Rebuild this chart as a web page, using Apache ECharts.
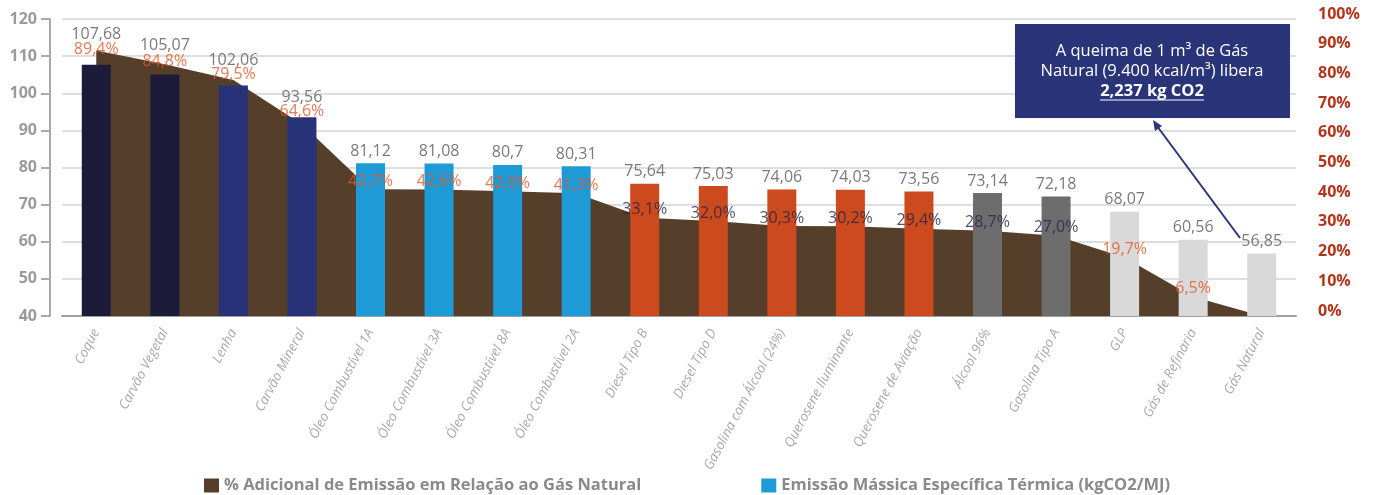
<!DOCTYPE html>
<html>
<head>
<meta charset="utf-8">
<script src="https://cdn.jsdelivr.net/npm/echarts@6/dist/echarts.min.js"></script>
<style>
  html, body { margin: 0; padding: 0; background: #fff; }
  #chart { width: 1374px; height: 495px; }
</style>
</head>
<body>
<div id="chart"></div>
<script>
// dados
const categories = ['Coque', 'Carvão Vegetal', 'Lenha', 'Carvão Mineral', 'Óleo Combustível 1A', 'Óleo Combustível 3A',
  'Óleo Combustível 8A', 'Óleo Combustível 2A', 'Diesel Tipo B', 'Diesel Tipo D', 'Gasolina com Álcool (24%)',
  'Querosene Iluminante', 'Querosene de Aviação', 'Álcool 96%', 'Gasolina Tipo A', 'GLP', 'Gás de Refinaria', 'Gás Natural']
const emission = [107.68, 105.07, 102.06, 93.56, 81.12, 81.08, 80.7, 80.31, 75.64, 75.03, 74.06, 74.03, 73.56, 73.14, 72.18, 68.07, 60.56, 56.85]
const additional = [89.4, 84.8, 79.5, 64.6, 42.7, 42.6, 42.0, 41.3, 33.1, 32.0, 30.3, 30.2, 29.4, 28.7, 27.0, 19.7, 6.5, 0]
const fuelGroup = [0, 0, 1, 1, 2, 2, 2, 2, 3, 3, 3, 3, 3, 4, 4, 5, 5, 5]
const legendNames = ['% Adicional de Emissão em Relação ao Gás Natural', 'Emissão Mássica Específica Térmica (kgCO2/MJ)']

const groupColors = ['#1c1c3a', '#283278', '#1e9ad6', '#cc4a1e', '#6d6d6d', '#d9d9d9']
const font = '"Open Sans", sans-serif'
const comma = v => String(v).replace('.', ',')

// ajustes manuais dos rótulos que se sobrepõem no topo
const valueLift = {0: -18, 1: -17, 2: -13, 3: -8}
const pctShift = {0: 7, 1: 5, 2: 3, 3: -5}

const myChart = echarts.init(document.getElementById('chart'))

const option = {
  animation: false,
  legend: {
    data: legendNames,
    left: 199,
    top: 472,
    icon: 'rect',
    itemWidth: 15,
    itemHeight: 14,
    itemGap: 120,
    textStyle: { fontFamily: font, fontWeight: 'bold', fontSize: 16.5, color: '#8a8a8a' }
  },
  grid: { left: 62, right: 78, top: 19, bottom: 179 },
  xAxis: {
    type: 'category',
    data: categories,
    axisLine: { lineStyle: { color: '#a0a0a0', width: 2 } },
    axisTick: { show: false },
    axisLabel: {
      interval: 0,
      rotate: 62,
      margin: 14,
      fontFamily: font,
      fontStyle: 'italic',
      fontSize: 13.5,
      color: '#aaaaaa'
    }
  },
  yAxis: [
    {
      type: 'value',
      min: 40,
      max: 120,
      interval: 10,
      offset: 12,
      axisLine: { show: true, lineStyle: { color: '#aaaaaa', width: 2 } },
      axisTick: { show: true, length: 9, lineStyle: { color: '#aaaaaa', width: 2 } },
      axisLabel: { margin: 13, fontFamily: font, fontWeight: 'bold', fontSize: 16, color: '#9a9a9a' },
      splitLine: { lineStyle: { color: '#dedede', width: 2 } }
    },
    {
      type: 'value',
      min: 0,
      max: 100,
      interval: 10,
      position: 'right',
      axisLine: { show: false },
      axisTick: { show: false },
      splitLine: { show: false },
      axisLabel: {
        margin: 22,
        fontFamily: font,
        fontWeight: 'bold',
        fontSize: 16,
        color: '#b5351c',
        verticalAlign: 'bottom',
        lineHeight: 10,
        formatter: '{value}%'
      }
    }
  ],
  series: [
    {
      name: legendNames[0],
      type: 'line',
      yAxisIndex: 1,
      data: additional,
      symbol: 'none',
      lineStyle: { width: 0 },
      itemStyle: { color: '#563f2a' },
      areaStyle: { color: '#563f2a', opacity: 1 },
      z: 1
    },
    {
      name: legendNames[1],
      type: 'bar',
      data: emission.map((v, i) => ({
        value: v,
        itemStyle: { color: groupColors[fuelGroup[i]] },
        label: { offset: [0, valueLift[i] || 0] }
      })),
      barWidth: 29,
      itemStyle: { color: '#1e9ad6' },
      label: {
        show: true,
        position: 'top',
        distance: 4,
        fontFamily: font,
        fontSize: 16,
        color: '#7a7a7a',
        formatter: p => comma(p.value)
      },
      z: 2
    },
    {
      // rótulos de percentual sobre a área
      type: 'scatter',
      yAxisIndex: 1,
      symbolSize: 0,
      silent: true,
      data: additional.map((v, i) => ({
        value: v,
        label: {
          show: v > 0,
          offset: [0, pctShift[i] || 0],
          color: (fuelGroup[i] === 3 || fuelGroup[i] === 4) ? '#26264a' : '#e4562a'
        }
      })),
      label: {
        position: 'top',
        distance: 0,
        fontFamily: font,
        fontSize: 16,
        formatter: p => comma(p.value.toFixed(1)) + '%'
      },
      z: 5
    }
  ],
  graphic: [
    {
      type: 'rect',
      shape: { x: 1015, y: 24, width: 275, height: 94 },
      style: { fill: '#2a3478' },
      z: 10
    },
    {
      type: 'text',
      x: 1152, y: 51,
      style: { text: 'A queima de 1 m³ de Gás', fill: '#fff', font: '16.5px "Open Sans", sans-serif', textAlign: 'center', textVerticalAlign: 'middle' },
      z: 11
    },
    {
      type: 'text',
      x: 1152, y: 71,
      style: { text: 'Natural (9.400 kcal/m³) libera', fill: '#fff', font: '16.5px "Open Sans", sans-serif', textAlign: 'center', textVerticalAlign: 'middle' },
      z: 11
    },
    {
      type: 'text',
      x: 1152, y: 91,
      style: { text: '2,237 kg CO2', fill: '#fff', font: 'bold 16.5px "Open Sans", sans-serif', textAlign: 'center', textVerticalAlign: 'middle' },
      z: 11
    },
    {
      type: 'line',
      shape: { x1: 1100, y1: 100, x2: 1204, y2: 100 },
      style: { stroke: '#fff', lineWidth: 1 },
      z: 11
    },
    {
      type: 'line',
      shape: { x1: 1240, y1: 238, x2: 1157, y2: 126 },
      style: { stroke: '#2a3478', lineWidth: 2 },
      z: 11
    },
    {
      type: 'polygon',
      shape: { points: [[1153, 120], [1162, 126], [1155, 131]] },
      style: { fill: '#2a3478' },
      z: 11
    }
  ]
}

myChart.setOption(option)
</script>
</body>
</html>
